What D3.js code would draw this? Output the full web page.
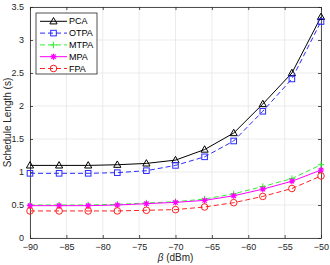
<!DOCTYPE html>
<html>
<head>
<meta charset="utf-8">
<script src="https://cdn.jsdelivr.net/npm/d3@7"></script>
<style>
  body { margin: 0; background: #fff; }
  svg { font-family: "Liberation Sans", Arial, sans-serif; }
</style>
</head>
<body>
<svg id="chart"></svg>
<script>
// data
const beta = [-90, -86, -82, -78, -74, -70, -66, -62, -58, -54, -50];
const pca  = [1.10, 1.10, 1.10, 1.11, 1.13, 1.18, 1.34, 1.59, 2.03, 2.50, 3.35];
const otpa = [0.98, 0.98, 0.98, 0.99, 1.02, 1.10, 1.23, 1.47, 1.92, 2.41, 3.28];
const mtpa = [0.50, 0.50, 0.50, 0.51, 0.53, 0.55, 0.59, 0.67, 0.78, 0.90, 1.11];
const mpa  = [0.49, 0.49, 0.49, 0.50, 0.52, 0.54, 0.57, 0.64, 0.74, 0.86, 1.03];
const fpa  = [0.41, 0.41, 0.41, 0.41, 0.42, 0.43, 0.47, 0.535, 0.63, 0.75, 0.94];
const xticks = [-90, -85, -80, -75, -70, -65, -60, -55, -50];
const yticks = [0, 0.5, 1, 1.5, 2, 2.5, 3, 3.5];

const series = [
    {name: 'PCA',  values: pca,  color: '#000000', dash: null,  marker: 'triangle'},
    {name: 'OTPA', values: otpa, color: '#2b2bff', dash: '5,3', marker: 'square'},
    {name: 'MTPA', values: mtpa, color: '#33ee33', dash: '5,3', marker: 'plus'},
    {name: 'MPA',  values: mpa,  color: '#ff00ff', dash: null,  marker: 'star'},
    {name: 'FPA',  values: fpa,  color: '#ff2222', dash: '5,3', marker: 'circle'}
];

const width = 330, height = 265;
const margin = {top: 7, right: 9, bottom: 27, left: 30};
const inner_width = width - margin.left - margin.right;
const inner_height = height - margin.top - margin.bottom;

const svg = d3.select('#chart')
    .attr('width', width)
    .attr('height', height);

const chart = svg.append('g')
    .attr('transform', `translate(${margin.left}, ${margin.top})`);

const xscale = d3.scaleLinear().domain([-90, -50]).range([0, inner_width]);
const yscale = d3.scaleLinear().domain([0, 3.5]).range([inner_height, 0]);

// grid
chart.append('g').selectAll('line')
    .data(xticks)
    .join('line')
    .attr('x1', d => xscale(d)).attr('x2', d => xscale(d))
    .attr('y1', 0).attr('y2', inner_height)
    .attr('stroke', '#e6e6e6').attr('stroke-width', 0.8);
chart.append('g').selectAll('line')
    .data(yticks)
    .join('line')
    .attr('x1', 0).attr('x2', inner_width)
    .attr('y1', d => yscale(d)).attr('y2', d => yscale(d))
    .attr('stroke', '#e6e6e6').attr('stroke-width', 0.8);

// axes, ticks pointing inwards like matlab
const xaxis = d3.axisBottom(xscale).tickValues(xticks).tickSize(-3).tickPadding(6).tickSizeOuter(0);
const yaxis = d3.axisLeft(yscale).tickValues(yticks).tickFormat(d3.format('~g'))
    .tickSize(-3).tickPadding(6).tickSizeOuter(0);
const xaxis_top = d3.axisTop(xscale).tickValues(xticks).tickSize(-3).tickFormat('').tickSizeOuter(0);
const yaxis_right = d3.axisRight(yscale).tickValues(yticks).tickSize(-3).tickFormat('').tickSizeOuter(0);

chart.append('g').attr('transform', `translate(0, ${inner_height})`).call(xaxis);
chart.append('g').call(yaxis);
chart.append('g').call(xaxis_top);
chart.append('g').attr('transform', `translate(${inner_width}, 0)`).call(yaxis_right);

chart.selectAll('.domain').attr('stroke', '#262626').attr('stroke-width', 0.8);
chart.selectAll('.tick line').attr('stroke', '#262626').attr('stroke-width', 0.8);
chart.selectAll('.tick text').attr('fill', '#262626').style('font-size', '9px');

// markers
function drawMarker(g, type, color) {
    if (type === 'triangle') {
        g.append('path').attr('d', 'M0,-3.8L3.6,2.6L-3.6,2.6Z')
            .attr('fill', 'none').attr('stroke', color).attr('stroke-width', 1);
    } else if (type === 'square') {
        g.append('rect').attr('x', -2.8).attr('y', -2.8).attr('width', 5.6).attr('height', 5.6)
            .attr('fill', 'none').attr('stroke', color).attr('stroke-width', 1);
    } else if (type === 'plus') {
        g.append('path').attr('d', 'M-3.2,0H3.2M0,-3.2V3.2')
            .attr('stroke', color).attr('stroke-width', 1);
    } else if (type === 'star') {
        g.append('path').attr('d', 'M-3,0H3M0,-3V3M-2.2,-2.2L2.2,2.2M-2.2,2.2L2.2,-2.2')
            .attr('stroke', color).attr('stroke-width', 1.2);
    } else if (type === 'circle') {
        g.append('circle').attr('r', 3.3)
            .attr('fill', 'none').attr('stroke', color).attr('stroke-width', 1);
    }
}

const line = d3.line()
    .x(d => xscale(d.x))
    .y(d => yscale(d.y));

series.forEach(s => {
    const pts = beta.map((b, i) => ({x: b, y: s.values[i]}));
    chart.append('path')
        .datum(pts)
        .attr('d', line)
        .attr('fill', 'none')
        .attr('stroke', s.color)
        .attr('stroke-width', 1)
        .attr('stroke-dasharray', s.dash);
    chart.append('g').selectAll('g')
        .data(pts)
        .join('g')
        .attr('transform', d => `translate(${xscale(d.x)}, ${yscale(d.y)})`)
        .each(function() { drawMarker(d3.select(this), s.marker, s.color); });
});

// legend
const legend = svg.append('g').attr('transform', 'translate(36, 13)');
legend.append('rect')
    .attr('width', 61).attr('height', 61)
    .attr('fill', '#fff').attr('stroke', '#262626').attr('stroke-width', 0.8);
series.forEach((s, i) => {
    const ly = 8.3 + i * 11.8;
    const g = legend.append('g').attr('transform', `translate(0, ${ly})`);
    g.append('line')
        .attr('x1', 4).attr('x2', 31).attr('y1', 0).attr('y2', 0)
        .attr('stroke', s.color).attr('stroke-width', 1)
        .attr('stroke-dasharray', s.dash);
    const m = g.append('g').attr('transform', 'translate(17.5, 0)');
    drawMarker(m, s.marker, s.color);
    g.append('text')
        .attr('x', 33).attr('y', 0).attr('dy', '0.35em')
        .style('font-size', '9px').attr('fill', '#000')
        .text(s.name);
});

// axis labels
svg.append('text')
    .attr('x', margin.left + inner_width / 2)
    .attr('y', 261)
    .attr('text-anchor', 'middle')
    .style('font-size', '10px')
    .attr('fill', '#262626')
    .html('<tspan font-style="italic">β</tspan> (dBm)');

svg.append('text')
    .attr('transform', 'rotate(-90)')
    .attr('x', -(margin.top + inner_height / 2))
    .attr('y', 11)
    .attr('text-anchor', 'middle')
    .style('font-size', '10px')
    .attr('fill', '#262626')
    .text('Schedule Length (s)');
</script>
</body>
</html>
